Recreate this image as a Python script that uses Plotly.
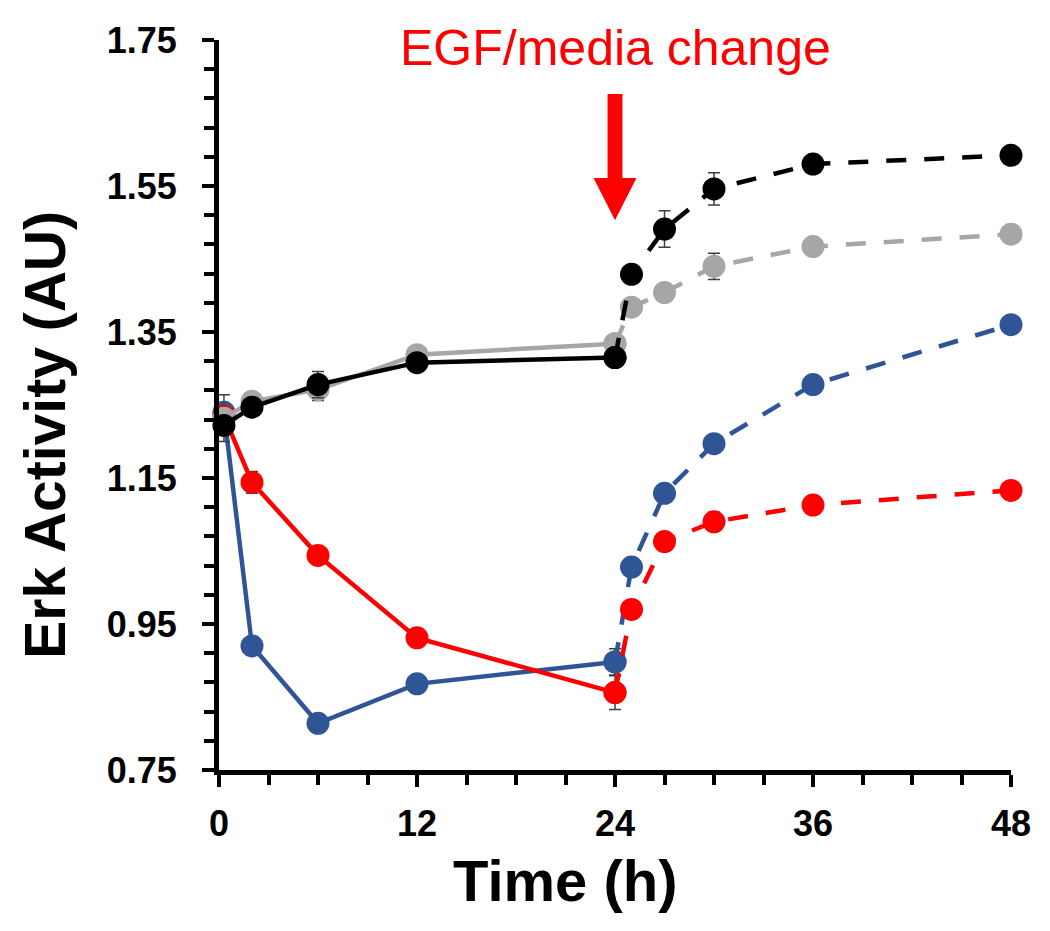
import plotly.graph_objects as go

# ---- data ----
t_pre = [0.3, 2, 6, 12, 24]
t_post = [24, 25, 27, 30, 36, 48]

black_pre = [1.222, 1.247, 1.278, 1.308, 1.315]
black_post = [1.315, 1.429, 1.491, 1.546, 1.580, 1.592]
gray_pre = [1.232, 1.255, 1.271, 1.319, 1.334]
gray_post = [1.334, 1.384, 1.404, 1.440, 1.467, 1.484]
blue_pre = [1.240, 0.920, 0.814, 0.868, 0.898]
blue_post = [0.898, 1.028, 1.129, 1.197, 1.278, 1.360]
red_pre = [1.235, 1.144, 1.044, 0.931, 0.856]
red_post = [0.856, 0.970, 1.063, 1.090, 1.113, 1.133]

black_pre_err = [0.008, 0.006, 0.018, 0.008, 0.008]
black_post_err = [0, 0.008, 0.025, 0.022, 0.006, 0.008]
gray_pre_err = [0.032, 0.006, 0.015, 0.008, 0.008]
gray_post_err = [0, 0.006, 0.006, 0.018, 0.005, 0.008]
blue_pre_err = [0.01, 0.006, 0.006, 0.006, 0.018]
blue_post_err = [0, 0.01, 0.006, 0.006, 0.006, 0.008]
red_pre_err = [0.01, 0.015, 0.012, 0.008, 0.023]
red_post_err = [0, 0.01, 0.008, 0.013, 0.006, 0.006]

change_time = 24
y_range = [0.75, 1.75]
x_range = [0, 48]

series = [
    ("blue", "#2F5597", blue_pre, blue_pre_err, blue_post, blue_post_err),
    ("red", "#FF0000", red_pre, red_pre_err, red_post, red_post_err),
    ("gray", "#A6A6A6", gray_pre, gray_pre_err, gray_post, gray_post_err),
    ("black", "#000000", black_pre, black_pre_err, black_post, black_post_err),
]

FONT = "Arial, 'Liberation Sans', sans-serif"

fig = go.Figure()
for name, col, pre, pre_e, post, post_e in series:
    err_style = dict(type="data", visible=True, color="#404040", thickness=1.5, width=6)
    fig.add_trace(go.Scatter(
        x=t_pre, y=pre, mode="lines+markers", name=name + " pre",
        line=dict(color=col, width=4.5),
        marker=dict(color=col, size=23),
        error_y=dict(array=pre_e, **err_style),
        cliponaxis=False, showlegend=False,
    ))
    fig.add_trace(go.Scatter(
        x=t_post, y=post, mode="lines+markers", name=name + " post",
        line=dict(color=col, width=4.5, dash="20px,18px"),
        marker=dict(color=col, size=23),
        error_y=dict(array=post_e, **err_style),
        cliponaxis=False, showlegend=False,
    ))

# red arrow (shaft + head) at the EGF/media change time
fig.add_shape(type="rect", xref="x", yref="y",
              x0=change_time - 0.45, x1=change_time + 0.45, y0=1.559, y1=1.676,
              fillcolor="#FF0000", line=dict(width=0))
fig.add_shape(type="path", xref="x", yref="y",
              path=f"M {change_time-1.3},1.561 L {change_time+1.3},1.561 L {change_time},1.503 Z",
              fillcolor="#FF0000", line=dict(width=0))

fig.add_annotation(x=change_time, y=1.739, xref="x", yref="y",
                   text="EGF/media change", showarrow=False,
                   font=dict(family=FONT, size=50, color="#FF0000"),
                   xanchor="center", yanchor="middle")

fig.add_annotation(x=0.438, y=-0.151, xref="paper", yref="paper",
                   text="<b>Time (h)</b>", showarrow=False,
                   font=dict(family=FONT, size=58, color="#000000"),
                   xanchor="center", yanchor="middle")
fig.add_annotation(x=-0.22, y=0.459, xref="paper", yref="paper",
                   text="<b>Erk Activity (AU)</b>", showarrow=False, textangle=-90,
                   font=dict(family=FONT, size=57, color="#000000"),
                   xanchor="center", yanchor="middle")

fig.update_layout(
    width=1050, height=931,
    margin=dict(l=211, r=47, t=32, b=169),
    paper_bgcolor="white", plot_bgcolor="white",
    font=dict(family=FONT, color="#000000"),
    showlegend=False,
)
fig.update_xaxes(
    range=x_range, tick0=0, dtick=12, ticks="outside", ticklen=12, tickwidth=4,
    tickcolor="#000", showline=True, linewidth=5, linecolor="#000",
    showgrid=False, zeroline=False,
    tickfont=dict(family=FONT, size=36, color="#000", weight="bold"),
    ticklabelstandoff=6,
    minor=dict(dtick=3, tick0=0, ticks="outside", ticklen=10, tickwidth=4, tickcolor="#000", showgrid=False),
)
fig.update_yaxes(
    range=y_range, tick0=0.75, dtick=0.2, ticks="outside", ticklen=12, tickwidth=4,
    tickcolor="#000", showline=True, linewidth=5, linecolor="#000",
    showgrid=False, zeroline=False, tickformat=".2f",
    tickfont=dict(family=FONT, size=36, color="#000", weight="bold"),
    ticklabelstandoff=18,
    minor=dict(dtick=0.04, tick0=0.75, ticks="outside", ticklen=10, tickwidth=4, tickcolor="#000", showgrid=False),
)

fig.write_html("out.html")
